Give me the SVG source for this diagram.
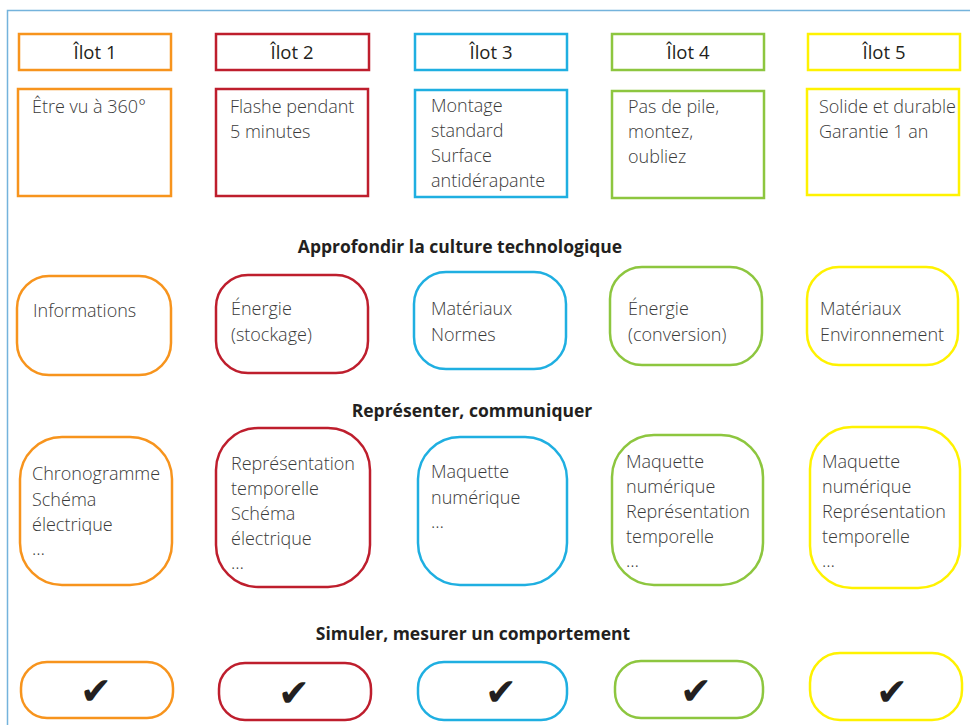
<svg xmlns="http://www.w3.org/2000/svg" width="970" height="725" viewBox="0 0 970 725">
  <style>
    .frame { fill: none; stroke: #74b3dc; stroke-width: 1.5; }
    .box { fill: #ffffff; stroke-width: 2.5; }
    .c1 { stroke: #f7941d; }
    .c2 { stroke: #be1e2d; }
    .c3 { stroke: #1fafe1; }
    .c4 { stroke: #8dc63f; }
    .c5 { stroke: #fff200; }
    .title { font-family: "Open Sans", "Noto Sans", sans-serif; font-size: 18.5px; fill: #231f20; text-anchor: middle; }
    .txt { font-family: "Open Sans", "Noto Sans", sans-serif; font-size: 18px; font-weight: 300; fill: #3a3a3a; }
    .head { font-family: "Open Sans", "Noto Sans", sans-serif; font-size: 17.5px; font-weight: bold; fill: #231f20; text-anchor: middle; }
    .check { font-family: "DejaVu Sans", sans-serif; font-size: 38px; fill: #231f20; text-anchor: middle; }
  </style>

  <!-- outer frame: top and left edges -->
  <path class="frame" d="M7.5,725 V10.5 H970"/>

  <!-- section headings -->
  <g id="headings">
    <text class="head" x="460" y="253">Approfondir la culture technologique</text>
    <text class="head" x="472" y="417">Représenter, communiquer</text>
    <text class="head" x="473" y="640">Simuler, mesurer un comportement</text>
  </g>

  <!-- column 1 -->
  <g id="ilot1">
    <rect class="box c1" x="19" y="34" width="152" height="36"/>
    <text class="title" x="95" y="59">Îlot 1</text>
  </g>
  <g id="ilot1-desc">
    <rect class="box c1" x="18" y="89" width="153" height="107"/>
    <text class="txt" x="32" y="113">Être vu à 360°</text>
  </g>
  <g id="ilot1-culture">
    <rect class="box c1" x="17" y="276" width="154" height="99" rx="32"/>
    <text class="txt" x="33" y="317">Informations</text>
  </g>
  <g id="ilot1-repr">
    <rect class="box c1" x="20" y="437" width="152" height="148" rx="42"/>
    <text class="txt" x="32" y="480">Chronogramme</text>
    <text class="txt" x="32" y="506">Schéma</text>
    <text class="txt" x="32" y="531">électrique</text>
    <text class="txt" x="32" y="555">…</text>
  </g>
  <g id="ilot1-sim">
    <rect class="box c1" x="21" y="662" width="152" height="56" rx="26"/>
    <text class="check" x="96" y="704">✔</text>
  </g>

  <!-- column 2 -->
  <g id="ilot2">
    <rect class="box c2" x="216" y="34" width="153" height="36"/>
    <text class="title" x="292" y="59">Îlot 2</text>
  </g>
  <g id="ilot2-desc">
    <rect class="box c2" x="216" y="89" width="152" height="107"/>
    <text class="txt" x="230" y="113">Flashe pendant</text>
    <text class="txt" x="230" y="138">5 minutes</text>
  </g>
  <g id="ilot2-culture">
    <rect class="box c2" x="216" y="275" width="152" height="98" rx="32"/>
    <text class="txt" x="231" y="315">Énergie</text>
    <text class="txt" x="231" y="341">(stockage)</text>
  </g>
  <g id="ilot2-repr">
    <rect class="box c2" x="216" y="428" width="154" height="159" rx="42"/>
    <text class="txt" x="231" y="470">Représentation</text>
    <text class="txt" x="231" y="495">temporelle</text>
    <text class="txt" x="231" y="520">Schéma</text>
    <text class="txt" x="231" y="545">électrique</text>
    <text class="txt" x="231" y="569">…</text>
  </g>
  <g id="ilot2-sim">
    <rect class="box c2" x="219" y="663" width="152" height="57" rx="26"/>
    <text class="check" x="294" y="706">✔</text>
  </g>

  <!-- column 3 -->
  <g id="ilot3">
    <rect class="box c3" x="415" y="34" width="152" height="36"/>
    <text class="title" x="491" y="59">Îlot 3</text>
  </g>
  <g id="ilot3-desc">
    <rect class="box c3" x="415" y="90" width="152" height="107"/>
    <text class="txt" x="431" y="112">Montage</text>
    <text class="txt" x="431" y="137">standard</text>
    <text class="txt" x="431" y="162">Surface</text>
    <text class="txt" x="431" y="187">antidérapante</text>
  </g>
  <g id="ilot3-culture">
    <rect class="box c3" x="414" y="272" width="152" height="97" rx="32"/>
    <text class="txt" x="431" y="315">Matériaux</text>
    <text class="txt" x="431" y="341">Normes</text>
  </g>
  <g id="ilot3-repr">
    <rect class="box c3" x="418" y="437" width="149" height="148" rx="42"/>
    <text class="txt" x="431" y="478">Maquette</text>
    <text class="txt" x="431" y="504">numérique</text>
    <text class="txt" x="431" y="528">…</text>
  </g>
  <g id="ilot3-sim">
    <rect class="box c3" x="418" y="662" width="149" height="58" rx="26"/>
    <text class="check" x="501" y="705">✔</text>
  </g>

  <!-- column 4 -->
  <g id="ilot4">
    <rect class="box c4" x="612" y="34" width="152" height="36"/>
    <text class="title" x="688" y="59">Îlot 4</text>
  </g>
  <g id="ilot4-desc">
    <rect class="box c4" x="612" y="91" width="152" height="107"/>
    <text class="txt" x="628" y="113">Pas de pile,</text>
    <text class="txt" x="628" y="138">montez,</text>
    <text class="txt" x="628" y="163">oubliez</text>
  </g>
  <g id="ilot4-culture">
    <rect class="box c4" x="610" y="267" width="152" height="98" rx="32"/>
    <text class="txt" x="628" y="315">Énergie</text>
    <text class="txt" x="628" y="341">(conversion)</text>
  </g>
  <g id="ilot4-repr">
    <rect class="box c4" x="612" y="435" width="151" height="150" rx="42"/>
    <text class="txt" x="626" y="468">Maquette</text>
    <text class="txt" x="626" y="493">numérique</text>
    <text class="txt" x="626" y="518">Représentation</text>
    <text class="txt" x="626" y="543">temporelle</text>
    <text class="txt" x="626" y="567">…</text>
  </g>
  <g id="ilot4-sim">
    <rect class="box c4" x="615" y="661" width="148" height="57" rx="26"/>
    <text class="check" x="696" y="704">✔</text>
  </g>

  <!-- column 5 -->
  <g id="ilot5">
    <rect class="box c5" x="808" y="34" width="152" height="36"/>
    <text class="title" x="884" y="59">Îlot 5</text>
  </g>
  <g id="ilot5-desc">
    <rect class="box c5" x="807" y="89" width="152" height="106"/>
    <text class="txt" x="819" y="113">Solide et durable</text>
    <text class="txt" x="819" y="138">Garantie 1 an</text>
  </g>
  <g id="ilot5-culture">
    <rect class="box c5" x="807" y="267" width="151" height="98" rx="32"/>
    <text class="txt" x="820" y="315">Matériaux</text>
    <text class="txt" x="820" y="341">Environnement</text>
  </g>
  <g id="ilot5-repr">
    <rect class="box c5" x="810" y="427" width="150" height="161" rx="42"/>
    <text class="txt" x="822" y="468">Maquette</text>
    <text class="txt" x="822" y="493">numérique</text>
    <text class="txt" x="822" y="518">Représentation</text>
    <text class="txt" x="822" y="543">temporelle</text>
    <text class="txt" x="822" y="567">…</text>
  </g>
  <g id="ilot5-sim">
    <rect class="box c5" x="810" y="653" width="152" height="67" rx="30"/>
    <text class="check" x="892" y="705">✔</text>
  </g>
</svg>
